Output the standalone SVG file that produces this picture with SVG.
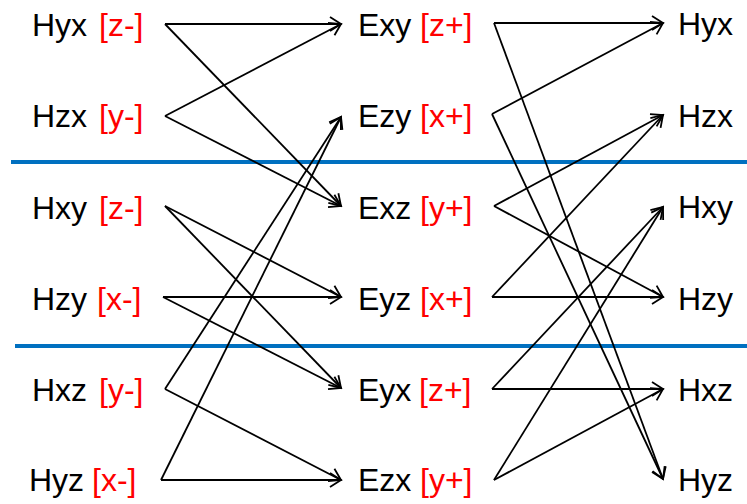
<svg xmlns="http://www.w3.org/2000/svg" width="747" height="504" viewBox="0 0 747 504">
<defs>
<style>
text{font-family:"Liberation Sans",Arial,sans-serif;font-size:32px;fill:#000}
.r{fill:#FF0000}
.c line{stroke:#000;stroke-width:1.8;fill:none;marker-end:url(#ah)}
.sep{stroke:#0070C0;stroke-width:4}
</style>
<marker id="ah" markerUnits="userSpaceOnUse" viewBox="-14 -10 16 20" refX="0" refY="0" markerWidth="16" markerHeight="20" orient="auto">
<path d="M-11,-7 L0,0 L-11,7" fill="none" stroke="#000" stroke-width="1.8"/>
</marker>
</defs>
<rect width="747" height="504" fill="#fff"/>
<line class="sep" x1="11" y1="162" x2="747" y2="162"/>
<line class="sep" x1="15" y1="346" x2="747" y2="346"/>
<g id="L_Hyx"><text x="32" y="36">Hyx</text><text class="r" x="99" y="36">[z-]</text></g>
<g id="L_Hzx"><text x="32" y="127">Hzx</text><text class="r" x="99" y="127">[y-]</text></g>
<g id="L_Hxy"><text x="32" y="219">Hxy</text><text class="r" x="99" y="219">[z-]</text></g>
<g id="L_Hzy"><text x="32" y="310">Hzy</text><text class="r" x="97" y="310">[x-]</text></g>
<g id="L_Hxz"><text x="32" y="401">Hxz</text><text class="r" x="99" y="401">[y-]</text></g>
<g id="L_Hyz"><text x="29" y="491">Hyz</text><text class="r" x="92" y="491">[x-]</text></g>
<g id="M_Exy"><text x="358" y="36">Exy</text><text class="r" x="420" y="36">[z+]</text></g>
<g id="M_Ezy"><text x="358" y="127">Ezy</text><text class="r" x="420" y="127">[x+]</text></g>
<g id="M_Exz"><text x="358" y="219">Exz</text><text class="r" x="420" y="219">[y+]</text></g>
<g id="M_Eyz"><text x="358" y="310">Eyz</text><text class="r" x="420" y="310">[x+]</text></g>
<g id="M_Eyx"><text x="358" y="401">Eyx</text><text class="r" x="419" y="401">[z+]</text></g>
<g id="M_Ezx"><text x="358" y="491">Ezx</text><text class="r" x="420" y="491">[y+]</text></g>
<g id="R_Hyx"><text x="678" y="35">Hyx</text></g>
<g id="R_Hzx"><text x="678" y="127">Hzx</text></g>
<g id="R_Hxy"><text x="678" y="218">Hxy</text></g>
<g id="R_Hzy"><text x="678" y="310">Hzy</text></g>
<g id="R_Hxz"><text x="678" y="401">Hxz</text></g>
<g id="R_Hyz"><text x="678" y="491">Hyz</text></g>
<g id="connectors" class="c">
<line x1="165" y1="24" x2="341" y2="24"/>
<line x1="165" y1="24" x2="341" y2="206"/>
<line x1="165" y1="116" x2="341" y2="24"/>
<line x1="165" y1="116" x2="341" y2="206"/>
<line x1="165" y1="206" x2="341" y2="297"/>
<line x1="165" y1="206" x2="341" y2="388"/>
<line x1="163" y1="297" x2="341" y2="297"/>
<line x1="163" y1="297" x2="341" y2="388"/>
<line x1="165" y1="389" x2="341" y2="117"/>
<line x1="165" y1="389" x2="341" y2="480"/>
<line x1="161" y1="480" x2="341" y2="117"/>
<line x1="161" y1="480" x2="341" y2="480"/>
<line x1="494" y1="23" x2="663" y2="23"/>
<line x1="494" y1="23" x2="663" y2="479"/>
<line x1="492" y1="114" x2="663" y2="23"/>
<line x1="492" y1="114" x2="663" y2="479"/>
<line x1="494" y1="206" x2="663" y2="115"/>
<line x1="494" y1="206" x2="663" y2="297"/>
<line x1="492" y1="297" x2="663" y2="115"/>
<line x1="492" y1="297" x2="663" y2="297"/>
<line x1="492" y1="389" x2="663" y2="207"/>
<line x1="492" y1="389" x2="663" y2="389"/>
<line x1="494" y1="480" x2="663" y2="207"/>
<line x1="494" y1="480" x2="663" y2="389"/>
</g>
</svg>
